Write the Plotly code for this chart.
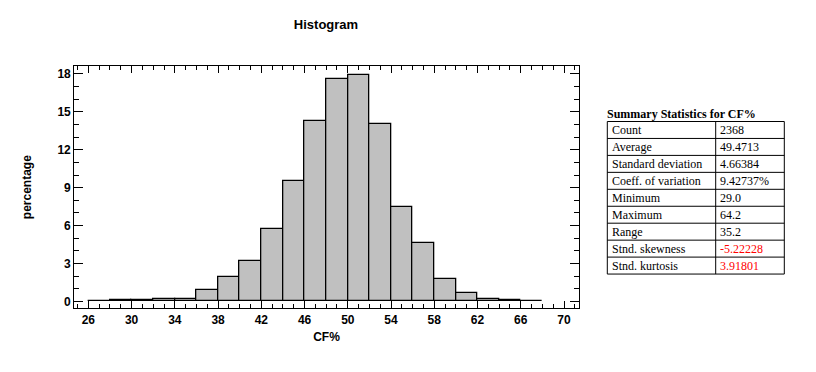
import plotly.graph_objects as go

# ---- data ----
bin_left = [26, 28, 30, 32, 34, 36, 38, 40, 42, 44, 46, 48, 50, 52, 54, 56, 58, 60, 62, 64, 66]
bin_width = 2
percentage = [0.0, 0.08, 0.08, 0.17, 0.17, 0.87, 1.90, 3.17, 5.76, 9.49, 14.25,
              17.6, 17.95, 14.04, 7.45, 4.65, 1.80, 0.69, 0.17, 0.08, 0.0]
x_ticks = [26, 30, 34, 38, 42, 46, 50, 54, 58, 62, 66, 70]
y_ticks = [0, 3, 6, 9, 12, 15, 18]

stat_title = "Summary Statistics for CF%"
stat_labels = ["Count", "Average", "Standard deviation", "Coeff. of variation",
               "Minimum", "Maximum", "Range", "Stnd. skewness", "Stnd. kurtosis"]
stat_values = ["2368", "49.4713", "4.66384", "9.42737%", "29.0", "64.2", "35.2",
               "-5.22228", "3.91801"]
stat_flag = [False, False, False, False, False, False, False, True, True]

# ---- layout helpers (pixel -> paper) ----
W, H = 816, 372
def px(x):
    return x / W
def py(y):
    return 1 - y / H

NARROW = "Liberation Sans Narrow, Arial Narrow, Liberation Sans, Arial, sans-serif"
SERIF = "Liberation Serif, Times New Roman, serif"

centers = [b + bin_width / 2 for b in bin_left]

fig = go.Figure()
fig.add_trace(go.Bar(
    x=centers, y=percentage, width=bin_width,
    marker=dict(color="#C0C0C0", line=dict(color="black", width=1.3)),
    showlegend=False, hoverinfo="x+y",
))

axis_common = dict(
    showline=True, linecolor="black", linewidth=1.3, mirror="ticks",
    ticks="inside", tickcolor="black", showgrid=False, zeroline=False,
    tickfont=dict(family=NARROW, size=12, color="black", weight="bold"),
)

fig.update_layout(
    width=W, height=H,
    margin=dict(l=0, r=0, t=0, b=0),
    paper_bgcolor="white", plot_bgcolor="white",
    bargap=0,
    title=dict(text="<b>Histogram</b>", x=px(326), y=py(24), xanchor="center", yanchor="middle",
               font=dict(family=NARROW, size=13, color="black")),
    xaxis=dict(
        domain=[px(74.3), px(578.7)], range=[24.7, 71.36],
        tickmode="array", tickvals=x_ticks, ticklen=7, tickwidth=1,
        minor=dict(ticks="inside", dtick=1, tick0=0, ticklen=4, tickcolor="black", showgrid=False),
        title=dict(text="<b>CF%</b>", standoff=6,
                   font=dict(family=NARROW, size=12, color="black")),
        **axis_common,
    ),
    yaxis=dict(
        domain=[py(308.3), py(66)], range=[-0.55, 18.63],
        tickmode="array", tickvals=y_ticks, ticklen=9, tickwidth=1,
        minor=dict(ticks="inside", dtick=1, tick0=0, ticklen=5, tickcolor="black", showgrid=False),
        title=dict(text="<b>percentage</b>", standoff=23,
                   font=dict(family=NARROW, size=12, color="black")),
        **axis_common,
    ),
)

# ---- summary statistics table ----
t_left, t_mid, t_right = 607.3, 715.7, 784.3
t_top, row_h = 121.5, 16.95
n = len(stat_labels)
t_bottom = t_top + n * row_h

fig.add_annotation(text="<b>" + stat_title + "</b>", xref="paper", yref="paper",
                   x=px(605), y=py(113.5), xanchor="left", yanchor="middle", showarrow=False,
                   font=dict(family=SERIF, size=12, color="black"))

shapes = []
shapes.append(dict(type="rect", xref="paper", yref="paper", x0=px(t_left), x1=px(t_right),
                   y0=py(t_top), y1=py(t_bottom), line=dict(color="black", width=1)))
shapes.append(dict(type="line", xref="paper", yref="paper", x0=px(t_mid), x1=px(t_mid),
                   y0=py(t_top), y1=py(t_bottom), line=dict(color="black", width=1)))
for i in range(1, n):
    yy = t_top + i * row_h
    shapes.append(dict(type="line", xref="paper", yref="paper", x0=px(t_left), x1=px(t_right),
                       y0=py(yy), y1=py(yy), line=dict(color="black", width=1)))
fig.update_layout(shapes=shapes)

for i, (lab, val, flag) in enumerate(zip(stat_labels, stat_values, stat_flag)):
    yc = t_top + (i + 0.5) * row_h
    fig.add_annotation(text=lab, xref="paper", yref="paper", x=px(t_left + 2.5), y=py(yc),
                       xanchor="left", yanchor="middle", showarrow=False,
                       font=dict(family=SERIF, size=12, color="black"))
    fig.add_annotation(text=val, xref="paper", yref="paper", x=px(t_mid + 2.5), y=py(yc),
                       xanchor="left", yanchor="middle", showarrow=False,
                       font=dict(family=SERIF, size=12, color="red" if flag else "black"))

fig.write_html("out.html", config={"displayModeBar": False},
               post_script="document.body.style.margin='0';")
